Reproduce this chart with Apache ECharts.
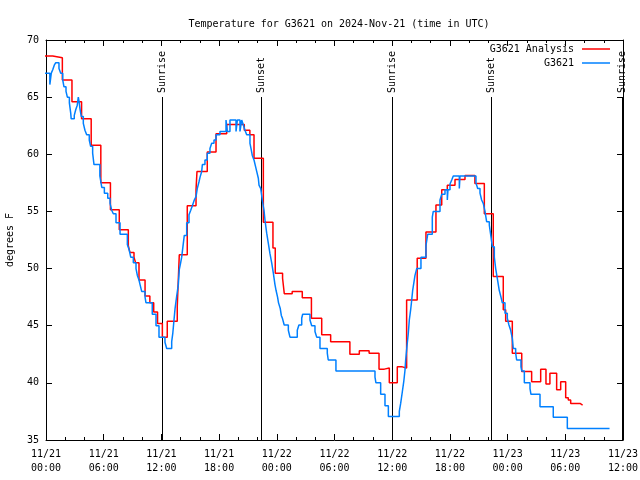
<!DOCTYPE html>
<html><head><meta charset="utf-8">
<script src="https://cdn.jsdelivr.net/npm/echarts@6.0.0/dist/echarts.min.js"></script>
<style>html,body{margin:0;padding:0;background:#fff}#c{width:640px;height:480px}</style>
</head><body><div id="c"></div>
<script>
const titleText = 'Temperature for G3621 on 2024-Nov-21 (time in UTC)';
const yAxisName = 'degrees F';
const xTickLabels = ['11/21\n00:00','11/21\n06:00','11/21\n12:00','11/21\n18:00','11/22\n00:00','11/22\n06:00','11/22\n12:00','11/22\n18:00','11/23\n00:00','11/23\n06:00','11/23\n12:00'];
const seriesNames = ['G3621 Analysis', 'G3621'];
// hours since 11/21 00:00 UTC
const redTimes = [-0.3,0.7,1.7,2.7,3.7,4.7,5.7,6.7,7.62,8.56,8.73,9.15,9.32,9.67,10.3,10.8,11.2,11.6,12.1,12.61,13.65,13.75,13.86,14.69,15.6,15.7,16.77,17.68,18.79,20.62,21.2,21.63,22.6,23.6,23.84,24.6,24.78,25.6,26.65,27.6,28.67,29.6,31.6,32.58,33.6,34.63,35.18,35.7,36.53,37.05,37.5,38.6,39.51,40.55,41.15,41.73,42.53,43.57,44.6,45.58,46.51,47.55,47.8,48.49,49.47,50.5,51.44,51.99,52.4,53.1,53.52,54.04,54.31,54.56,55.53,55.8];
const redValues = [68.6,68.45,66.5,64.6,63.1,60.8,57.5,55.15,53.4,52.0,51.4,51.0,50.5,49.0,47.6,47.0,46.2,45.2,44.0,45.4,46.7,48.85,51.2,55.5,56.9,58.5,60.2,61.8,62.6,62.1,61.7,59.65,54.05,51.8,49.6,49.15,47.8,48.0,47.45,45.65,44.2,43.6,42.5,42.8,42.6,41.2,41.3,40.0,41.4,41.3,47.25,50.9,53.2,55.56,56.9,57.3,57.8,58.15,57.45,54.8,49.3,46.4,45.4,42.6,41.0,40.1,41.2,39.9,40.85,39.4,40.1,38.7,38.5,38.2,38.06,38.06];
const blueTimes = [-0.2,0.4,0.55,0.7,0.86,1.0,1.35,1.53,1.74,1.87,2.08,2.22,2.43,2.57,2.62,2.94,3.09,3.25,3.36,3.46,3.53,3.67,3.88,4.05,4.23,4.5,4.64,4.85,4.99,5.6,5.8,6.07,6.42,6.66,6.83,7.0,7.28,7.7,8.46,8.66,8.81,9.08,9.36,9.5,9.67,9.78,9.95,10.3,10.4,11.05,11.44,11.75,12.37,12.55,13.07,13.18,13.31,13.42,13.59,13.76,13.86,14.0,14.11,14.28,14.38,14.63,14.87,15.05,15.22,15.42,15.6,15.73,15.91,16.02,16.19,16.26,16.53,16.77,17.05,17.23,17.47,17.68,18.09,18.72,18.85,19.13,19.76,19.9,20.17,20.35,20.52,20.69,20.87,21.21,21.32,21.45,21.63,21.8,21.91,22.08,22.15,22.33,22.49,22.67,22.77,22.95,23.12,23.29,23.47,23.64,23.81,23.92,24.08,24.18,24.36,24.47,24.6,24.77,25.2,25.37,26.13,26.3,26.59,26.69,27.45,27.63,27.97,28.15,28.49,29.25,29.35,30.15,34.21,34.31,34.8,35.25,35.6,36.74,36.88,37.05,37.2,37.33,37.4,37.57,37.67,37.78,37.92,38.03,38.13,38.27,38.37,38.55,38.99,39.51,39.69,40.17,40.27,40.97,41.15,41.49,41.73,41.8,42.01,42.19,42.35,42.98,43.05,44.71,44.89,45.13,45.3,45.47,45.65,45.82,46.1,46.27,46.41,46.62,46.76,46.93,47.13,47.31,47.45,47.73,47.97,48.14,48.32,48.49,48.59,48.84,48.94,49.39,49.47,49.74,50.33,50.43,51.37,52.75,54.21,58.6];
const blueValues = [67.1,66.1,67.1,67.4,67.8,68.0,67.5,67.1,66.5,65.9,65.5,65.0,64.5,63.6,63.1,63.4,63.9,64.3,65.0,64.5,64.0,63.3,62.7,62.1,61.7,61.25,60.7,60.1,59.1,58.1,57.1,56.6,56.15,55.7,55.1,54.8,54.0,53.0,52.1,51.6,51.0,50.5,50.0,49.4,49.0,48.6,48.0,47.5,47.0,46.0,45.0,44.0,43.55,43.0,43.6,44.3,45.5,46.5,47.6,48.6,49.9,50.5,51.0,52.2,52.9,54.0,54.7,55.1,55.5,56.0,56.3,57.0,57.6,58.0,58.5,59.1,59.5,60.1,60.5,60.96,61.25,61.7,62.0,63.0,62.0,63.0,62.0,63.0,62.0,63.0,62.56,62.1,61.7,60.96,60.5,59.9,59.5,58.9,58.5,57.9,57.3,57.0,56.0,55.1,54.25,53.1,52.2,51.3,50.5,49.6,48.6,48.1,47.5,47.0,46.5,45.9,45.6,45.06,44.6,44.0,44.6,45.06,45.65,46.0,45.5,45.0,44.5,44.0,43.0,42.6,42.0,41.04,40.5,40.0,39.0,38.0,37.05,37.5,38.2,39.2,40.1,41.1,42.0,43.5,44.3,45.5,46.4,47.25,48.1,48.85,49.4,50.0,51.0,52.0,53.0,54.5,55.0,56.0,56.5,56.9,56.0,56.9,57.4,57.75,58.1,57.0,58.1,57.5,57.0,56.6,56.0,55.7,55.0,54.1,53.8,52.8,51.9,51.0,50.0,49.15,48.1,47.5,47.0,46.1,45.65,45.06,44.6,43.9,43.0,42.6,42.0,41.4,41.04,40.0,39.5,39.0,37.9,37.0,36.0,36.0];
const sunTimes = [12.05, 22.38, 36.02, 46.3, 59.86];
const sunLabels = ['Sunrise', 'Sunset', 'Sunrise', 'Sunset', 'Sunrise'];
const xMin = 0, xMax = 60, xStep = 6;
const yMin = 35, yMax = 70, yStep = 5;

const FONT = '"DejaVu Sans Mono", "Liberation Mono", monospace';
const zip = (a, b) => a.map((t, i) => [t, b[i]]);

const chart = echarts.init(document.getElementById('c'), null, {renderer: 'canvas'});
const axisLineStyle = {show: true, onZero: false, lineStyle: {color: '#000', width: 1}};
function xAxisCfg(pos, showLabel) {
  return {
    type: 'value', position: pos, min: xMin, max: xMax, interval: xStep,
    axisLine: axisLineStyle,
    axisTick: {show: true, inside: true, length: 6, lineStyle: {color: '#000'}},
    minorTick: {show: true, splitNumber: 3, length: 3, lineStyle: {color: '#000'}},
    splitLine: {show: false}, minorSplitLine: {show: false},
    axisLabel: {show: showLabel, margin: 7, color: '#000', fontFamily: FONT, fontSize: 10, lineHeight: 14,
      formatter: v => xTickLabels[Math.round((v - xMin) / xStep)] || ''}
  };
}
function yAxisCfg(pos, showLabel) {
  return {
    type: 'value', position: pos, min: yMin, max: yMax, interval: yStep,
    axisLine: axisLineStyle,
    axisTick: {show: true, inside: true, length: 6, lineStyle: {color: '#000'}},
    splitLine: {show: false},
    axisLabel: {show: showLabel, margin: 7, color: '#000', fontFamily: FONT, fontSize: 10},
    name: showLabel ? yAxisName : '', nameLocation: 'middle', nameGap: 31,
    nameTextStyle: {color: '#000', fontFamily: FONT, fontSize: 10}
  };
}
const legendBase = {
  orient: 'vertical', right: 30, align: 'right', icon: 'rect', itemWidth: 28, itemHeight: 1.5,
  padding: 0, itemGap: 0, selectedMode: false,
  textStyle: {color: '#000', fontFamily: FONT, fontSize: 10, padding: [0, 3, 0, 0]}
};
chart.setOption({
  animation: false,
  backgroundColor: '#fff',
  title: {text: titleText, left: 334, top: 14, textAlign: 'center',
    textStyle: {color: '#000', fontFamily: FONT, fontSize: 10, fontWeight: 'normal'}},
  grid: {left: 46, right: 17, top: 40, bottom: 40, containLabel: false, outerBoundsMode: 'none', show: false},
  legend: [
    Object.assign({}, legendBase, {data: [seriesNames[0]], top: 44}),
    Object.assign({}, legendBase, {data: [seriesNames[1]], top: 58})
  ],
  xAxis: [xAxisCfg('bottom', true), xAxisCfg('top', false)],
  yAxis: [yAxisCfg('left', true), yAxisCfg('right', false)],
  series: [
    {
      type: 'custom', name: 'sun', silent: true, z: 1, clip: false,
      data: sunTimes.map(t => [t, yMin]),
      encode: {x: 0, y: 1},
      renderItem: function (params, api) {
        const t = api.value(0);
        const bottom = api.coord([t, yMin]);
        const top = api.coord([t, yMax]);
        const x = Math.round(bottom[0]) + 0.5;
        return {type: 'group', children: [
          {type: 'line', shape: {x1: x, y1: bottom[1], x2: x, y2: top[1] + 57},
            style: {stroke: '#000', lineWidth: 1}},
          {type: 'text', x: x, y: top[1] + 53, rotation: Math.PI / 2,
            style: {text: sunLabels[params.dataIndex], font: '10px ' + FONT, fill: '#000',
              align: 'left', verticalAlign: 'middle'}}
        ]};
      }
    },
    {
      name: seriesNames[0], type: 'line', step: 'end', data: zip(redTimes, redValues),
      showSymbol: false, symbol: 'none', color: '#ff0000',
      lineStyle: {color: '#ff0000', width: 1.5}, z: 3
    },
    {
      name: seriesNames[1], type: 'line', step: 'end', data: zip(blueTimes, blueValues),
      showSymbol: false, symbol: 'none', color: '#0080ff',
      lineStyle: {color: '#0080ff', width: 1.5}, z: 4
    }
  ]
});
</script>
</body></html>
